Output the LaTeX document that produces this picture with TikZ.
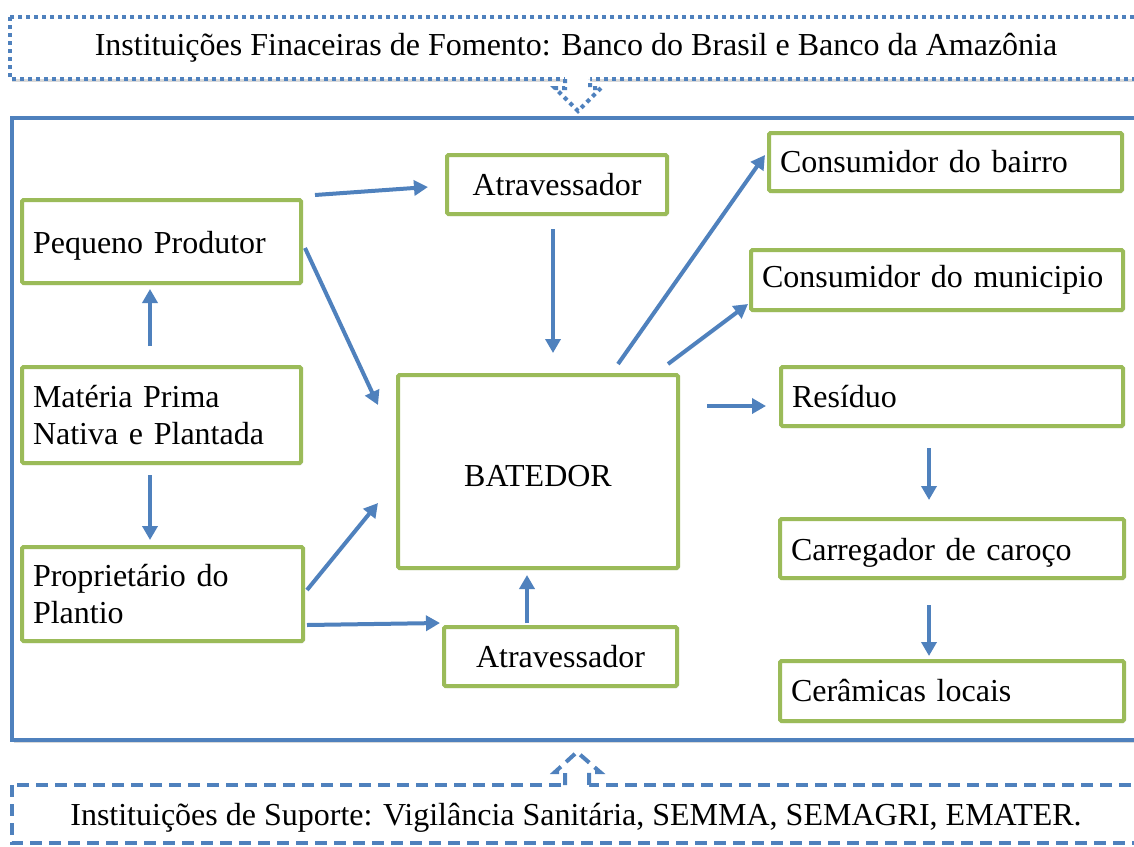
\documentclass[tikz,border=0pt]{standalone}
\usepackage{fontspec}
\setmainfont{Liberation Serif}
\usetikzlibrary{arrows.meta,shadows}
\definecolor{gboxc}{HTML}{9BBB59}
\definecolor{bluec}{HTML}{4F81BD}
\tikzset{
  txt/.style={font=\fontsize{32}{37.5}\selectfont},
  gbox/.style={draw=gboxc, line width=4pt, fill=white, rounded corners=1.5pt, inner sep=0pt,
    txt, drop shadow={opacity=0.22, shadow xshift=1.5pt, shadow yshift=-2pt}},
  lbox/.style={gbox, align=left, inner xsep=11pt},
  arr/.style={draw=bluec, line width=4pt, -{Triangle[width=15pt,length=14pt]}},
  bframe/.style={draw=bluec, line width=4.5pt, fill=white,
    drop shadow={opacity=0.3, shadow xshift=2pt, shadow yshift=-3pt}},
}
\begin{document}
\begin{tikzpicture}[x=1pt,y=-1pt]
\useasboundingbox (0,0) rectangle (1134,846);
\clip (0,0) rectangle (1134,846);
% main frame
\path[bframe] (12,118) rectangle (1150,740);
% top dotted box
\path[draw=bluec, line width=4pt, dash pattern=on 4pt off 4pt, fill=white,
  drop shadow={opacity=0.3, shadow xshift=2pt, shadow yshift=-3pt}] (10,17) rectangle (1150,79);
\node[txt] (topt) at (576,48) {Instituições Finaceiras de Fomento: Banco do Brasil e Banco da Amazônia};
% bottom dashed box
\path[draw=bluec, line width=4pt, dash pattern=on 12pt off 7pt, fill=white] (12,785) rectangle (1150,843);
\node[txt] (bott) at (576,818) {Instituições de Suporte: Vigilância Sanitária, SEMMA, SEMAGRI, EMATER.};
% block arrows
\fill[white] (565,76) -- (565,88) -- (555,88) -- (578,111) -- (601,88) -- (590,88) -- (590,76) -- cycle;
\draw[bluec, line width=4pt, dash pattern=on 4pt off 4pt] (565,79) -- (565,88) -- (555,88) -- (578,111) -- (601,88) -- (590,88) -- (590,79);
\fill[white] (565,788) -- (565,772) -- (555,772) -- (577,752) -- (600,772) -- (589,772) -- (589,788) -- cycle;
\draw[bluec, line width=4pt, dash pattern=on 12pt off 7pt] (565,785) -- (565,772) -- (555,772) -- (577,752) -- (600,772) -- (589,772) -- (589,785);
% nodes
\node[lbox, text width=257pt, minimum height=83pt, text height=30pt, text depth=7pt] (pp) at (161.5,241.5) {Pequeno Produtor};
\node[lbox, text width=257pt, minimum height=96pt] (mp) at (161.5,415) {Matéria Prima\\Nativa e Plantada};
\node[lbox, text width=259pt, minimum height=94pt] (pr) at (162.5,594) {Proprietário do\\Plantio};
\node[gbox, minimum width=220pt, minimum height=59pt] (at1) at (557,184.5) {Atravessador};
\node[gbox, minimum width=233pt, minimum height=59pt] (at2) at (560.5,656.5) {Atravessador};
\node[gbox, minimum width=280pt, minimum height=193pt, text height=36pt, text depth=7pt] (bat) at (538,471.5) {BATEDOR};
\node[lbox, text width=331pt, minimum height=58pt] (cb) at (945.5,162) {Consumidor do bairro};
\node[lbox, text width=350pt, minimum height=60pt] (cm) at (937,280) {Consumidor do municipio};
\node[lbox, text width=320pt, minimum height=59pt] (res) at (952,396.5) {Resíduo};
\node[lbox, text width=322pt, minimum height=59pt, text height=30pt, text depth=7pt] (car) at (952,548.5) {Carregador de caroço};
\node[lbox, text width=322pt, minimum height=60pt] (cer) at (952,691) {Cerâmicas locais};
% connectors
\draw[arr] ([shift={(12pt,3pt)}]pp.north east) -- ([shift={(-17pt,-2.5pt)}]at1.west);
\draw[arr] ([shift={(2pt,-6.5pt)}]pp.east) -- ([shift={(-18pt,66.5pt)}]bat.west);
\draw[arr] ([shift={(-11.5pt,19pt)}]mp.north) -- ([shift={(-11.5pt,-4pt)}]pp.south);
\draw[arr] ([shift={(-11.5pt,-10pt)}]mp.south) -- ([shift={(-12.5pt,5pt)}]pr.north);
\draw[arr] ([shift={(2pt,4pt)}]pr.east) -- ([shift={(-18pt,-31.5pt)}]bat.west);
\draw[arr] ([shift={(2pt,-31pt)}]pr.east) -- ([shift={(-2pt,2pt)}]at2.north west);
\draw[arr] ([shift={(-33.5pt,2pt)}]at2.north) -- ([shift={(-11pt,-5pt)}]bat.south);
\draw[arr] ([shift={(-4pt,-13pt)}]at1.south) -- ([shift={(15pt,20pt)}]bat.north);
\draw[arr] ([shift={(80pt,9pt)}]bat.north) -- ([shift={(-2pt,7pt)}]cb.west);
\draw[arr] ([shift={(130pt,9pt)}]bat.north) -- ([shift={(-1pt,8pt)}]cm.south west);
\draw[arr] ([shift={(27pt,65.5pt)}]bat.east) -- ([shift={(-13pt,-9.5pt)}]res.west);
\draw[arr] ([shift={(-23pt,-20pt)}]res.south) -- ([shift={(-23pt,17pt)}]car.north);
\draw[arr] ([shift={(-23pt,-25pt)}]car.south) -- ([shift={(-23pt,3pt)}]cer.north);
\end{tikzpicture}
\end{document}
